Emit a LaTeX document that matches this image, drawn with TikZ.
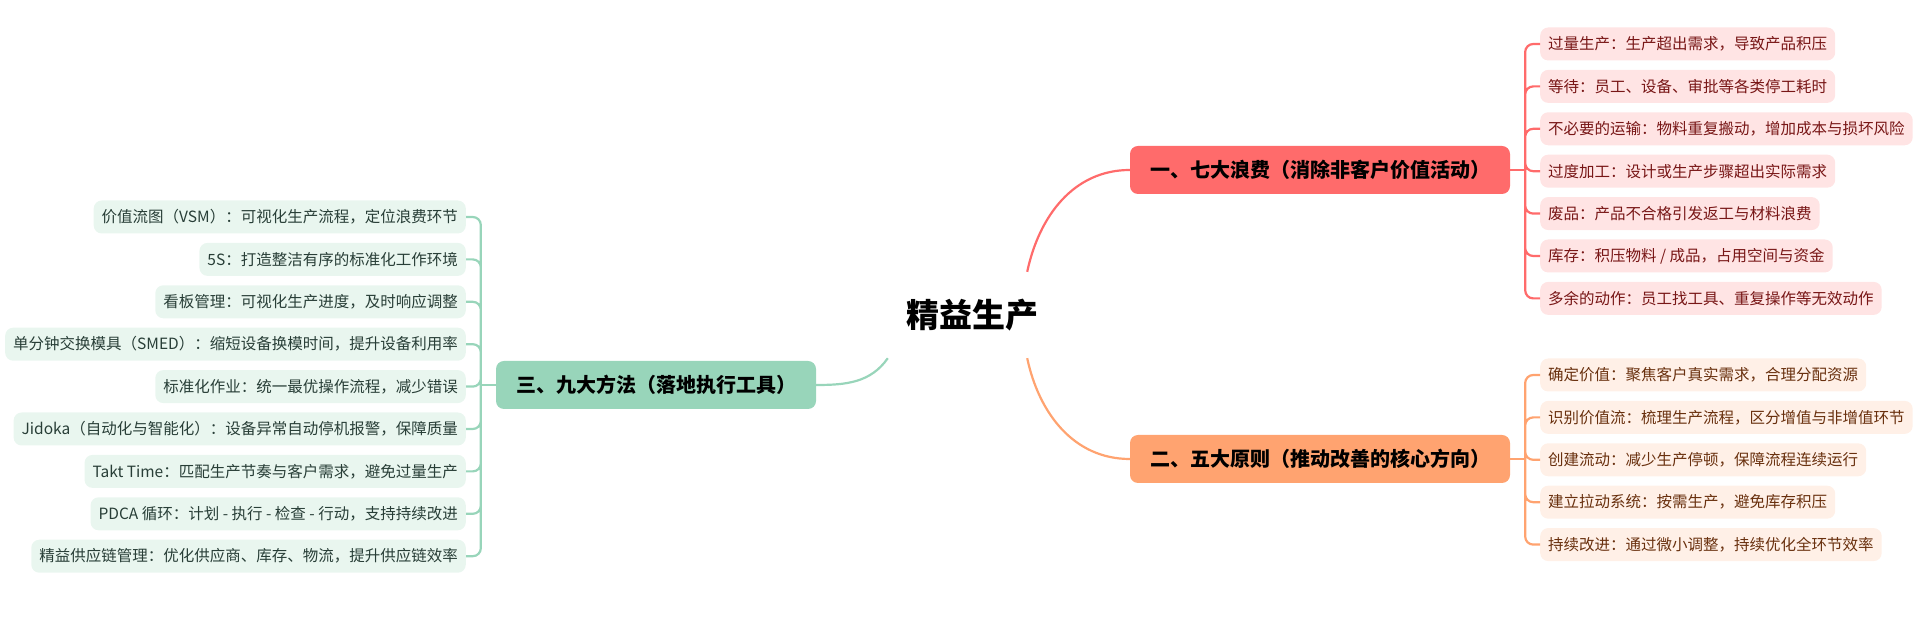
\documentclass[tikz,border=0pt]{standalone}
\usepackage{fontspec}
\setmainfont{Noto Sans CJK SC}
\usetikzlibrary{positioning,calc}
\definecolor{wastered}{RGB}{255,107,107}
\definecolor{wastepink}{RGB}{255,228,228}
\definecolor{wastetext}{RGB}{120,22,22}
\definecolor{ruleorange}{RGB}{255,163,112}
\definecolor{rulepeach}{RGB}{255,240,231}
\definecolor{ruletext}{RGB}{105,48,14}
\definecolor{toolgreen}{RGB}{152,213,186}
\definecolor{toolmint}{RGB}{233,246,239}
\definecolor{tooltext}{RGB}{40,62,55}

\begin{document}
\begin{tikzpicture}[x=1pt,y=1pt,node distance=9pt and 15pt, every node/.style={inner ysep=0pt}, topic/.style={font=\fontsize{20}{24}\selectfont\bfseries,rounded corners=8pt,minimum height=48pt,inner xsep=20pt}, leaf/.style={font=\fontsize{15.5}{18}\selectfont,rounded corners=8pt,minimum height=33pt,inner xsep=8pt}, wasteleaf/.style={leaf,fill=wastepink,text=wastetext}, ruleleaf/.style={leaf,fill=rulepeach,text=ruletext}, toolleaf/.style={leaf,fill=toolmint,text=tooltext}, wline/.style={draw=wastered,line width=2.2pt}, rline/.style={draw=ruleorange,line width=2.2pt}, tline/.style={draw=toolgreen,line width=2.2pt}]
  \useasboundingbox (0,0) rectangle (1920,620);
  \node[font=\fontsize{33}{36}\selectfont\bfseries,inner xsep=0pt,minimum height=86pt] (root) at (972,305) {精益生产};
  \node[topic,fill=wastered] (waste) at (1320,450) {一、七大浪费（消除非客户价值活动）};
  \node[topic,fill=ruleorange] (principle) at (1320,161) {二、五大原则（推动改善的核心方向）};
  \node[topic,fill=toolgreen] (method) at (656,235) {三、九大方法（落地执行工具）};

  % seven wastes
  \node[wasteleaf,anchor=west] (w1) at (1540,576) {过量生产：生产超出需求，导致产品积压};
  \node[wasteleaf,below=of w1.south west,anchor=north west] (w2) {等待：员工、设备、审批等各类停工耗时};
  \node[wasteleaf,below=of w2.south west,anchor=north west] (w3) {不必要的运输：物料重复搬动，增加成本与损坏风险};
  \node[wasteleaf,below=of w3.south west,anchor=north west] (w4) {过度加工：设计或生产步骤超出实际需求};
  \node[wasteleaf,below=of w4.south west,anchor=north west] (w5) {废品：产品不合格引发返工与材料浪费};
  \node[wasteleaf,below=of w5.south west,anchor=north west] (w6) {库存：积压物料 / 成品，占用空间与资金};
  \node[wasteleaf,below=of w6.south west,anchor=north west] (w7) {多余的动作：员工找工具、重复操作等无效动作};

  % five principles
  \node[ruleleaf,anchor=west] (p1) at (1540,245) {确定价值：聚焦客户真实需求，合理分配资源};
  \node[ruleleaf,below=of p1.south west,anchor=north west] (p2) {识别价值流：梳理生产流程，区分增值与非增值环节};
  \node[ruleleaf,below=of p2.south west,anchor=north west] (p3) {创建流动：减少生产停顿，保障流程连续运行};
  \node[ruleleaf,below=of p3.south west,anchor=north west] (p4) {建立拉动系统：按需生产，避免库存积压};
  \node[ruleleaf,below=of p4.south west,anchor=north west] (p5) {持续改进：通过微小调整，持续优化全环节效率};

  % nine methods
  \node[toolleaf,anchor=east] (m1) at (466,403) {价值流图（VSM）：可视化生产流程，定位浪费环节\ };
  \node[toolleaf,below=of m1.south east,anchor=north east] (m2) {5S：打造整洁有序的标准化工作环境};
  \node[toolleaf,below=of m2.south east,anchor=north east] (m3) {看板管理：可视化生产进度，及时响应调整};
  \node[toolleaf,below=of m3.south east,anchor=north east] (m4) {单分钟交换模具（SMED）：缩短设备换模时间，提升设备利用率\ };
  \node[toolleaf,below=of m4.south east,anchor=north east] (m5) {标准化作业：统一最优操作流程，减少错误};
  \node[toolleaf,below=of m5.south east,anchor=north east] (m6) {Jidoka（自动化与智能化）：设备异常自动停机报警，保障质量};
  \node[toolleaf,below=of m6.south east,anchor=north east] (m7) {Takt Time：匹配生产节奏与客户需求，避免过量生产};
  \node[toolleaf,below=of m7.south east,anchor=north east] (m8) {PDCA 循环：计划 - 执行 - 检查 - 行动，支持持续改进};
  \node[toolleaf,below=of m8.south east,anchor=north east] (m9) {精益供应链管理：优化供应商、库存、物流，提升供应链效率};

  % branches from the centre
  \draw[wline] ([xshift=-11pt]root.north east) to[out=78,in=180] (waste.west);
  \draw[rline] ([xshift=-11pt]root.south east) to[out=-78,in=180] (principle.west);
  \draw[tline] ([xshift=-18pt]root.south west) to[out=-125,in=0] (method.east);

  % brackets
  \coordinate[right=of waste.east] (wj);
  \coordinate[right=of principle.east] (pj);
  \coordinate[left=of method.west] (mj);
  \draw[wline] (waste.east) -- (wj);
  \draw[rline] (principle.east) -- (pj);
  \draw[tline] (method.west) -- (mj);
  \draw[wline,rounded corners=8pt] (wj) |- (w1.west) (wj) |- (w2.west) (wj) |- (w3.west) (wj) |- (w4.west) (wj) |- (w5.west) (wj) |- (w6.west) (wj) |- (w7.west);
  \draw[rline,rounded corners=8pt] (pj) |- (p1.west) (pj) |- (p2.west) (pj) |- (p3.west) (pj) |- (p4.west) (pj) |- (p5.west);
  \draw[tline,rounded corners=8pt] (mj) |- (m1.east) (mj) |- (m2.east) (mj) |- (m3.east) (mj) |- (m4.east) (mj) |- (m5.east) (mj) |- (m6.east) (mj) |- (m7.east) (mj) |- (m8.east) (mj) |- (m9.east);
\end{tikzpicture}
\end{document}
